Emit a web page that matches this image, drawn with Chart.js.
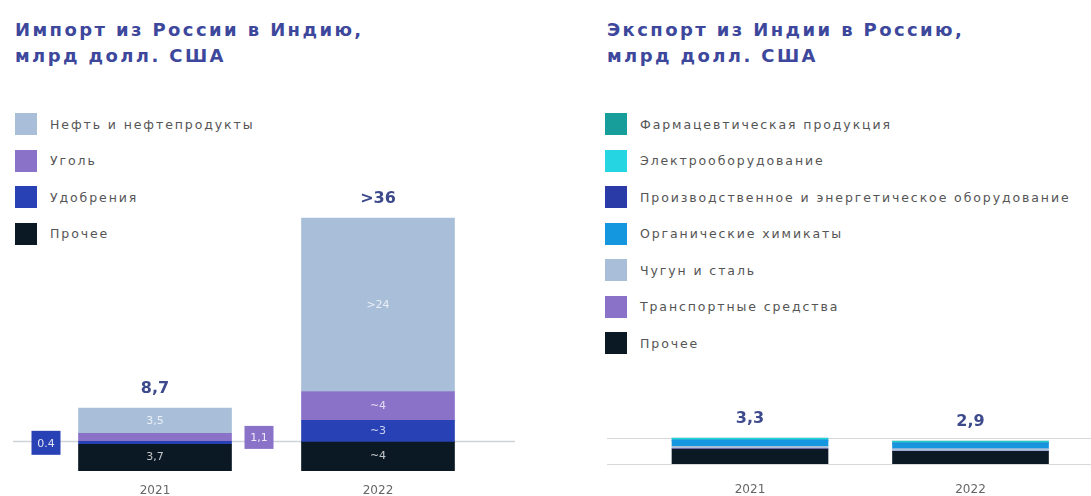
<!DOCTYPE html>
<html>
<head>
<meta charset="utf-8">
<script src="https://cdn.jsdelivr.net/npm/chart.js@4"></script>
<style>
  body { margin: 0; width: 1091px; height: 496px; background: #fff; position: relative; overflow: hidden; font-family: "DejaVu Sans", sans-serif; }
  .title { position: absolute; top: 17px; font-weight: bold; font-size: 18px; line-height: 26px; color: #3d479c; letter-spacing: 2.4px; }
  .legend { position: absolute; top: 113px; }
  .legend div { height: 22px; margin-bottom: 14.5px; display: flex; align-items: center; font-size: 12.5px; color: #555; letter-spacing: 1.9px; white-space: nowrap; }
  .legend span { display: inline-block; width: 22px; height: 22px; margin-right: 13px; }
  .box { position: absolute; top: 0; }
</style>
</head>
<body>
<div class="title" style="left:15px">Импорт из России в Индию,<br>млрд долл. США</div>
<div class="title" style="left:607px">Экспорт из Индии в Россию,<br>млрд долл. США</div>
<div class="legend" id="legImport" style="left:15px"></div>
<div class="legend" id="legExport" style="left:605px"></div>
<div class="box" style="left:0;width:540px;height:496px"><canvas id="imp"></canvas></div>
<div class="box" style="left:540px;width:551px;height:496px"><canvas id="exp"></canvas></div>
<script>
const years = ["2021", "2022"];

// import from Russia, bn USD
const importNames = ["Нефть и нефтепродукты", "Уголь", "Удобрения", "Прочее"];
const importColors = ["#a9bfd9", "#8a72c9", "#2842b5", "#0b1924"];
const importOil = [3.5, 24];
const importCoal = [1.1, 4];
const importFert = [0.4, 3];
const importOther = [3.7, 4];
const importOilLabels = ["3,5", ">24"];
const importCoalLabels = ["", "~4"];
const importFertLabels = ["", "~3"];
const importOtherLabels = ["3,7", "~4"];
const importTotals = ["8,7", ">36"];

// export to Russia, bn USD
const exportNames = ["Фармацевтическая продукция", "Электрооборудование", "Производственное и энергетическое оборудование",
  "Органические химикаты", "Чугун и сталь", "Транспортные средства", "Прочее"];
const exportColors = ["#179e9a", "#25d6e2", "#2a3aa6", "#1597df", "#a9bfd9", "#8a72c9", "#0b1924"];
const exportPharma = [0.05, 0.05];
const exportElectro = [0.2, 0.2];
const exportMachinery = [0.05, 0.05];
const exportChemicals = [0.75, 0.65];
const exportIron = [0.3, 0.3];
const exportTransport = [0.05, 0.05];
const exportOther = [1.9, 1.6];
const exportTotals = ["3,3", "2,9"];

function buildLegend(id, names, colors) {
  let el = document.getElementById(id);
  names.forEach((n, i) => {
    let row = document.createElement("div");
    row.innerHTML = '<span style="background:' + colors[i] + '"></span>' + n;
    el.appendChild(row);
  });
}
buildLegend("legImport", importNames, importColors);
buildLegend("legExport", exportNames, exportColors);

// segment labels, totals, years, callouts
const barText = {
  id: "barText",
  beforeDatasetsDraw(chart, args, opts) {
    let ctx = chart.ctx;
    if (opts.leader) {
      let meta = chart.getDatasetMeta(opts.leader.dataset);
      let y = meta.data[0].y;
      ctx.save();
      ctx.strokeStyle = "#cfd3d8";
      ctx.lineWidth = 1.5;
      ctx.beginPath();
      ctx.moveTo(opts.leader.from, y);
      ctx.lineTo(opts.leader.to, y);
      ctx.stroke();
      ctx.restore();
    }
    if (opts.rules) {
      let ys = chart.scales.y;
      ctx.save();
      ctx.strokeStyle = "#d6d8dc";
      ctx.lineWidth = 1;
      opts.rules.forEach(v => {
        let y = Math.round(ys.getPixelForValue(v)) + 0.5;
        ctx.beginPath();
        ctx.moveTo(opts.rulesFrom, y);
        ctx.lineTo(chart.width, y);
        ctx.stroke();
      });
      ctx.restore();
    }
  },
  afterDatasetsDraw(chart, args, opts) {
    let ctx = chart.ctx;
    ctx.save();
    ctx.textAlign = "center";
    ctx.textBaseline = "middle";
    ctx.font = "11px 'DejaVu Sans'";
    ctx.fillStyle = "rgba(255,255,255,0.75)";
    chart.data.datasets.forEach((ds, i) => {
      if (!ds.labels) return;
      chart.getDatasetMeta(i).data.forEach((bar, j) => {
        if (ds.labels[j]) ctx.fillText(ds.labels[j], bar.x, (bar.y + bar.base) / 2);
      });
    });
    // year labels under bars
    let first = chart.getDatasetMeta(0).data;
    ctx.font = "12px 'DejaVu Sans'";
    ctx.fillStyle = "#666";
    chart.data.labels.forEach((l, j) => ctx.fillText(l, first[j].x, chart.chartArea.bottom + opts.yearGap));
    // totals above bars
    let top = chart.getDatasetMeta(chart.data.datasets.length - 1).data;
    ctx.font = "bold 16px 'DejaVu Sans'";
    ctx.fillStyle = "#3d4a8c";
    opts.totals.forEach((t, j) => ctx.fillText(t, top[j].x, top[j].y - 19));
    // callout boxes for thin segments
    (opts.callouts || []).forEach(c => {
      let bar = chart.getDatasetMeta(c.dataset).data[c.index];
      let cy = (bar.y + bar.base) / 2;
      let bx = c.side === "left" ? bar.x - bar.width / 2 - c.gap - c.w : bar.x + bar.width / 2 + c.gap;
      ctx.fillStyle = chart.data.datasets[c.dataset].backgroundColor;
      ctx.fillRect(bx, cy - c.h / 2, c.w, c.h);
      ctx.fillStyle = "rgba(255,255,255,0.85)";
      ctx.font = "11px 'DejaVu Sans'";
      ctx.fillText(c.text, bx + c.w / 2, cy + 1);
    });
    ctx.restore();
  }
};

new Chart(document.getElementById("imp"), {
  type: "bar",
  data: {
    labels: years,
    datasets: [
      { label: importNames[3], data: importOther, backgroundColor: importColors[3], labels: importOtherLabels },
      { label: importNames[2], data: importFert, backgroundColor: importColors[2], labels: importFertLabels },
      { label: importNames[1], data: importCoal, backgroundColor: importColors[1], labels: importCoalLabels },
      { label: importNames[0], data: importOil, backgroundColor: importColors[0], labels: importOilLabels }
    ]
  },
  options: {
    responsive: true,
    maintainAspectRatio: false,
    animation: false,
    layout: { padding: { left: 43.5, right: 50.5, top: 182, bottom: 25 } },
    datasets: { bar: { barThickness: 153 } },
    scales: {
      x: { stacked: true, display: false },
      y: { stacked: true, display: false, min: 0, max: 40 }
    },
    plugins: {
      legend: { display: false },
      tooltip: { enabled: false },
      barText: {
        totals: importTotals,
        yearGap: 20,
        leader: { dataset: 1, from: 13, to: 515 },
        callouts: [
          { dataset: 1, index: 0, side: "left", gap: 18, w: 29, h: 24, text: "0.4" },
          { dataset: 2, index: 0, side: "right", gap: 13, w: 29, h: 23, text: "1,1" }
        ]
      }
    }
  },
  plugins: [barText]
});

new Chart(document.getElementById("exp"), {
  type: "bar",
  data: {
    labels: years,
    datasets: [
      { label: exportNames[6], data: exportOther, backgroundColor: exportColors[6] },
      { label: exportNames[5], data: exportTransport, backgroundColor: exportColors[5] },
      { label: exportNames[4], data: exportIron, backgroundColor: exportColors[4] },
      { label: exportNames[3], data: exportChemicals, backgroundColor: exportColors[3] },
      { label: exportNames[2], data: exportMachinery, backgroundColor: exportColors[2] },
      { label: exportNames[1], data: exportElectro, backgroundColor: exportColors[1] },
      { label: exportNames[0], data: exportPharma, backgroundColor: exportColors[0] }
    ]
  },
  options: {
    responsive: true,
    maintainAspectRatio: false,
    animation: false,
    layout: { padding: { left: 99.75, right: 10.25, top: 432.5, bottom: 32 } },
    datasets: { bar: { barThickness: 156 } },
    scales: {
      x: { stacked: true, display: false },
      y: { stacked: true, display: false, min: 0, max: 4 }
    },
    plugins: {
      legend: { display: false },
      tooltip: { enabled: false },
      barText: { totals: exportTotals, yearGap: 26, rules: [0, 3.3], rulesFrom: 67 }
    }
  },
  plugins: [barText]
});
</script>
</body>
</html>
